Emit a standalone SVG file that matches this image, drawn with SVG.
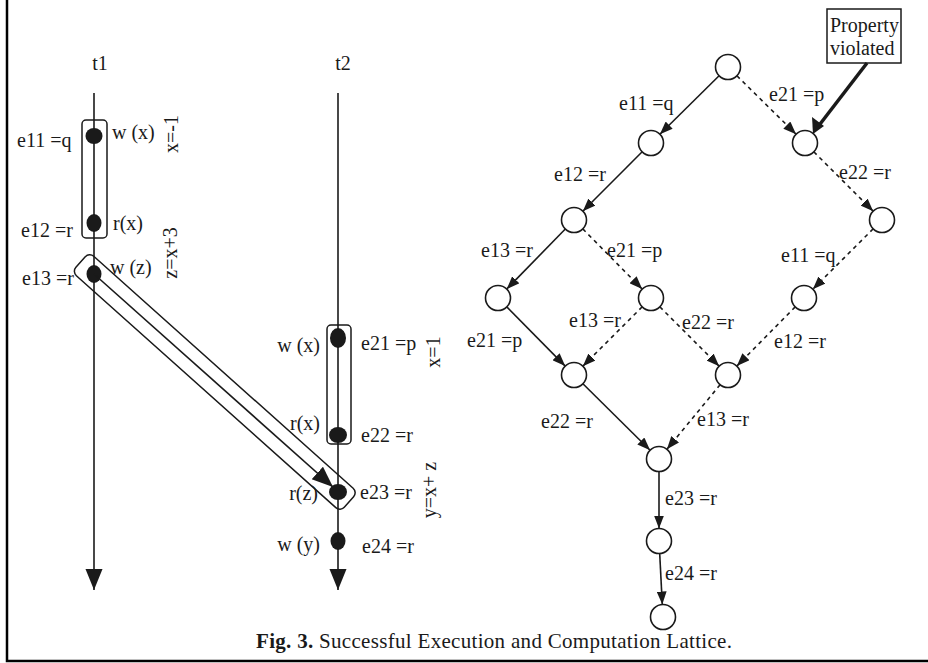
<svg xmlns="http://www.w3.org/2000/svg" width="928" height="663" viewBox="0 0 928 663">
<defs>
<style>
text{font-family:"Liberation Serif","Times New Roman",serif;font-size:20px;fill:#1a1a1a}
.ln{stroke:#1a1a1a;stroke-width:1.6;fill:none}
.dash{stroke-dasharray:4 4}
.nd{fill:#fff;stroke:#1a1a1a;stroke-width:1.6}
.dot{fill:#1a1a1a}
.box{fill:none;stroke:#1a1a1a;stroke-width:1.5}
.cap{font-size:21px}
</style>
<marker id="ah" markerUnits="userSpaceOnUse" markerWidth="14" markerHeight="10" refX="13" refY="5" orient="auto">
<path d="M0,0 L13,5 L0,10 z" fill="#1a1a1a"/>
</marker>
<marker id="ahb" markerUnits="userSpaceOnUse" markerWidth="22" markerHeight="18" refX="21" refY="8.5" orient="auto">
<path d="M0,0 L21,8.5 L0,17 z" fill="#1a1a1a"/>
</marker>
</defs>
<rect width="928" height="663" fill="#fff"/>
<!-- frame -->
<path d="M7,0 V661 H928" fill="none" stroke="#000" stroke-width="2.5"/>

<!-- timelines -->
<g id="thread-t1">
<text x="100" y="70" text-anchor="middle">t1</text>
<line class="ln" x1="94" y1="93" x2="94" y2="590" marker-end="url(#ahb)"/>
</g>
<g id="thread-t2">
<text x="343" y="70" text-anchor="middle">t2</text>
<line class="ln" x1="338" y1="93" x2="338" y2="590" marker-end="url(#ahb)"/>
</g>

<!-- grouping boxes -->
<g id="group-x-minus-1">
<rect class="box" x="82" y="120" width="25" height="118" rx="4"/>
<text transform="translate(178,134) rotate(-90)" text-anchor="middle">x=-1</text>
</g>
<g id="group-x-1">
<rect class="box" x="327" y="325" width="24" height="119" rx="4"/>
<text transform="translate(440,352) rotate(-90)" text-anchor="middle">x=1</text>
</g>
<g id="group-z">
<rect class="box" x="-18" y="-13" width="360" height="26" rx="6" transform="translate(94,274) rotate(41.8)"/>
<text transform="translate(177,253) rotate(-90)" text-anchor="middle">z=x+3</text>
</g>
<g id="group-y">
<text transform="translate(436,490) rotate(-90)" text-anchor="middle">y=x+ z</text>
</g>

<!-- events -->
<g id="e11"><ellipse class="dot" cx="94" cy="136" rx="8.5" ry="8"/><text x="17" y="147">e11 =q</text><text x="112" y="139">w (x)</text></g>
<g id="e12"><ellipse class="dot" cx="94" cy="223" rx="7.5" ry="9"/><text x="21" y="237">e12 =r</text><text x="113" y="230">r(x)</text></g>
<g id="e13"><ellipse class="dot" cx="94" cy="274" rx="7.5" ry="9"/><text x="22" y="285">e13 =r</text><text x="110" y="274">w (z)</text></g>
<g id="e21"><ellipse class="dot" cx="338" cy="338" rx="8" ry="10"/><text x="320" y="352" text-anchor="end">w (x)</text><text x="361" y="350">e21 =p</text></g>
<g id="e22"><ellipse class="dot" cx="338" cy="435" rx="9" ry="8"/><text x="320" y="430" text-anchor="end">r(x)</text><text x="361" y="442">e22 =r</text></g>
<g id="e23"><ellipse class="dot" cx="338" cy="492" rx="9" ry="8"/><text x="318" y="500" text-anchor="end">r(z)</text><text x="360" y="499">e23 =r</text></g>
<g id="e24"><ellipse class="dot" cx="338" cy="541" rx="7.5" ry="9"/><text x="320" y="551" text-anchor="end">w (y)</text><text x="362" y="553">e24 =r</text></g>

<!-- lattice connectors -->
<g id="connectors">
<line class="ln" x1="94" y1="274" x2="333" y2="487" marker-end="url(#ahb)"/>
<line class="ln" x1="719.1" y1="75.8" x2="659.9" y2="134.2" marker-end="url(#ah)"/>
<line class="ln dash" x1="736.9" y1="75.8" x2="796.1" y2="134.2" marker-end="url(#ah)"/>
<line class="ln" x1="642.2" y1="151.8" x2="582.8" y2="211.2" marker-end="url(#ah)"/>
<line class="ln dash" x1="813.8" y1="151.8" x2="873.2" y2="211.2" marker-end="url(#ah)"/>
<line class="ln" x1="565.3" y1="229" x2="506.7" y2="289.1" marker-end="url(#ah)"/>
<line class="ln dash" x1="582.8" y1="228.9" x2="642.2" y2="289.1" marker-end="url(#ah)"/>
<line class="ln dash" x1="873.2" y1="228.8" x2="812.8" y2="289.2" marker-end="url(#ah)"/>
<line class="ln" x1="506.8" y1="306.9" x2="565.2" y2="366.1" marker-end="url(#ah)"/>
<line class="ln dash" x1="642.2" y1="306.8" x2="582.8" y2="366.2" marker-end="url(#ah)"/>
<line class="ln dash" x1="659.8" y1="306.8" x2="719.2" y2="366.2" marker-end="url(#ah)"/>
<line class="ln dash" x1="795.2" y1="306.9" x2="736.8" y2="366.1" marker-end="url(#ah)"/>
<line class="ln" x1="582.9" y1="383.8" x2="650.1" y2="450.2" marker-end="url(#ah)"/>
<line class="ln dash" x1="720.1" y1="384.7" x2="666.9" y2="449.3" marker-end="url(#ah)"/>
<line class="ln" x1="659" y1="471.5" x2="659" y2="528.5" marker-end="url(#ah)"/>
<line class="ln" x1="659.7" y1="553.5" x2="662.3" y2="604.5" marker-end="url(#ah)"/>
<line x1="867" y1="63" x2="817" y2="128" stroke="#1a1a1a" stroke-width="3.5"/>
<path d="M813,134 L812,117 L824,126 z" fill="#1a1a1a"/>
</g>

<!-- edge labels -->
<g id="edge-labels">
<text x="619" y="110">e11 =q</text>
<text x="769" y="101">e21 =p</text>
<text x="554" y="181">e12 =r</text>
<text x="839" y="179">e22 =r</text>
<text x="481" y="257">e13 =r</text>
<text x="607" y="257">e21 =p</text>
<text x="781" y="262">e11 =q</text>
<text x="569" y="327">e13 =r</text>
<text x="682" y="329">e22 =r</text>
<text x="467" y="347">e21 =p</text>
<text x="774" y="348">e12 =r</text>
<text x="541" y="428">e22 =r</text>
<text x="697" y="426">e13 =r</text>
<text x="665" y="505">e23 =r</text>
<text x="665" y="580">e24 =r</text>
</g>

<!-- lattice nodes -->
<g id="s0"><circle class="nd" cx="728" cy="67" r="12.5"/></g>
<g id="s1"><circle class="nd" cx="651" cy="143" r="12.5"/></g>
<g id="s2"><circle class="nd" cx="805" cy="143" r="12.5"/></g>
<g id="s3"><circle class="nd" cx="574" cy="220" r="12.5"/></g>
<g id="s4"><circle class="nd" cx="882" cy="220" r="12.5"/></g>
<g id="s5"><circle class="nd" cx="498" cy="298" r="12.5"/></g>
<g id="s6"><circle class="nd" cx="651" cy="298" r="12.5"/></g>
<g id="s7"><circle class="nd" cx="804" cy="298" r="12.5"/></g>
<g id="s8"><circle class="nd" cx="574" cy="375" r="12.5"/></g>
<g id="s9"><circle class="nd" cx="728" cy="375" r="12.5"/></g>
<g id="s10"><circle class="nd" cx="659" cy="459" r="12.5"/></g>
<g id="s11"><circle class="nd" cx="659" cy="541" r="12.5"/></g>
<g id="s12"><circle class="nd" cx="663" cy="617" r="12.5"/></g>

<g id="property-violated">
<rect class="box" x="827" y="9" width="74" height="54"/>
<text x="830" y="32">Property</text>
<text x="830" y="55">violated</text>
</g>

<g id="caption">
<text class="cap" x="256" y="648" textLength="476" lengthAdjust="spacing"><tspan font-weight="bold">Fig. 3.</tspan> Successful Execution and Computation Lattice.</text>
</g>
</svg>
